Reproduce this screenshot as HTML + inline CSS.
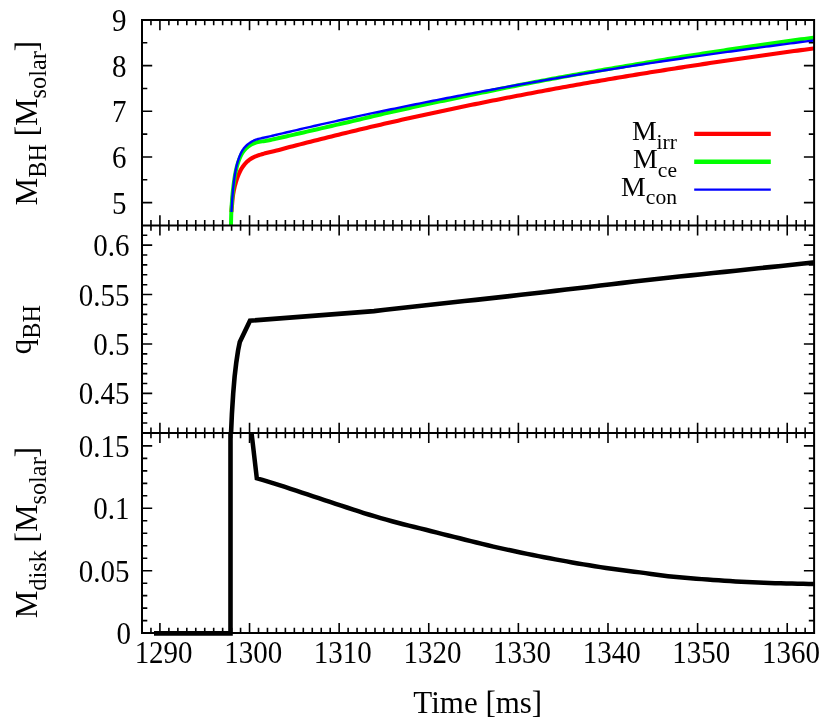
<!DOCTYPE html>
<html><head><meta charset="utf-8"><title>chart</title>
<style>html,body{margin:0;padding:0;background:#fff}svg{display:block}text{font-family:"Liberation Serif",serif;fill:#000}</style></head><body>
<svg width="830" height="726" viewBox="0 0 830 726">
<rect x="0" y="0" width="830" height="726" fill="#fff"/>
<defs>
<clipPath id="c1"><rect x="142.0" y="20.0" width="672.1" height="205.4"/></clipPath>
<clipPath id="c2"><rect x="142.0" y="225.4" width="672.1" height="207.49999999999997"/></clipPath>
<clipPath id="c3"><rect x="142.0" y="432.9" width="672.1" height="203.20000000000005"/></clipPath>
</defs>
<path d="M150.96,20.00L150.96,25.30M150.96,220.10L150.96,230.70M150.96,427.60L150.96,438.20M150.96,633.10L150.96,627.80M159.92,20.00L159.92,30.20M159.92,215.20L159.92,235.60M159.92,422.70L159.92,443.10M159.92,633.10L159.92,622.90M168.88,20.00L168.88,25.30M168.88,220.10L168.88,230.70M168.88,427.60L168.88,438.20M168.88,633.10L168.88,627.80M177.85,20.00L177.85,25.30M177.85,220.10L177.85,230.70M177.85,427.60L177.85,438.20M177.85,633.10L177.85,627.80M186.81,20.00L186.81,25.30M186.81,220.10L186.81,230.70M186.81,427.60L186.81,438.20M186.81,633.10L186.81,627.80M195.77,20.00L195.77,25.30M195.77,220.10L195.77,230.70M195.77,427.60L195.77,438.20M195.77,633.10L195.77,627.80M204.73,20.00L204.73,25.30M204.73,220.10L204.73,230.70M204.73,427.60L204.73,438.20M204.73,633.10L204.73,627.80M213.69,20.00L213.69,25.30M213.69,220.10L213.69,230.70M213.69,427.60L213.69,438.20M213.69,633.10L213.69,627.80M222.65,20.00L222.65,25.30M222.65,220.10L222.65,230.70M222.65,427.60L222.65,438.20M222.65,633.10L222.65,627.80M231.61,20.00L231.61,25.30M231.61,220.10L231.61,230.70M231.61,427.60L231.61,438.20M231.61,633.10L231.61,627.80M240.57,20.00L240.57,25.30M240.57,220.10L240.57,230.70M240.57,427.60L240.57,438.20M240.57,633.10L240.57,627.80M249.54,20.00L249.54,30.20M249.54,215.20L249.54,235.60M249.54,422.70L249.54,443.10M249.54,633.10L249.54,622.90M258.50,20.00L258.50,25.30M258.50,220.10L258.50,230.70M258.50,427.60L258.50,438.20M258.50,633.10L258.50,627.80M267.46,20.00L267.46,25.30M267.46,220.10L267.46,230.70M267.46,427.60L267.46,438.20M267.46,633.10L267.46,627.80M276.42,20.00L276.42,25.30M276.42,220.10L276.42,230.70M276.42,427.60L276.42,438.20M276.42,633.10L276.42,627.80M285.38,20.00L285.38,25.30M285.38,220.10L285.38,230.70M285.38,427.60L285.38,438.20M285.38,633.10L285.38,627.80M294.34,20.00L294.34,25.30M294.34,220.10L294.34,230.70M294.34,427.60L294.34,438.20M294.34,633.10L294.34,627.80M303.30,20.00L303.30,25.30M303.30,220.10L303.30,230.70M303.30,427.60L303.30,438.20M303.30,633.10L303.30,627.80M312.27,20.00L312.27,25.30M312.27,220.10L312.27,230.70M312.27,427.60L312.27,438.20M312.27,633.10L312.27,627.80M321.23,20.00L321.23,25.30M321.23,220.10L321.23,230.70M321.23,427.60L321.23,438.20M321.23,633.10L321.23,627.80M330.19,20.00L330.19,25.30M330.19,220.10L330.19,230.70M330.19,427.60L330.19,438.20M330.19,633.10L330.19,627.80M339.15,20.00L339.15,30.20M339.15,215.20L339.15,235.60M339.15,422.70L339.15,443.10M339.15,633.10L339.15,622.90M348.11,20.00L348.11,25.30M348.11,220.10L348.11,230.70M348.11,427.60L348.11,438.20M348.11,633.10L348.11,627.80M357.07,20.00L357.07,25.30M357.07,220.10L357.07,230.70M357.07,427.60L357.07,438.20M357.07,633.10L357.07,627.80M366.03,20.00L366.03,25.30M366.03,220.10L366.03,230.70M366.03,427.60L366.03,438.20M366.03,633.10L366.03,627.80M374.99,20.00L374.99,25.30M374.99,220.10L374.99,230.70M374.99,427.60L374.99,438.20M374.99,633.10L374.99,627.80M383.96,20.00L383.96,25.30M383.96,220.10L383.96,230.70M383.96,427.60L383.96,438.20M383.96,633.10L383.96,627.80M392.92,20.00L392.92,25.30M392.92,220.10L392.92,230.70M392.92,427.60L392.92,438.20M392.92,633.10L392.92,627.80M401.88,20.00L401.88,25.30M401.88,220.10L401.88,230.70M401.88,427.60L401.88,438.20M401.88,633.10L401.88,627.80M410.84,20.00L410.84,25.30M410.84,220.10L410.84,230.70M410.84,427.60L410.84,438.20M410.84,633.10L410.84,627.80M419.80,20.00L419.80,25.30M419.80,220.10L419.80,230.70M419.80,427.60L419.80,438.20M419.80,633.10L419.80,627.80M428.76,20.00L428.76,30.20M428.76,215.20L428.76,235.60M428.76,422.70L428.76,443.10M428.76,633.10L428.76,622.90M437.72,20.00L437.72,25.30M437.72,220.10L437.72,230.70M437.72,427.60L437.72,438.20M437.72,633.10L437.72,627.80M446.69,20.00L446.69,25.30M446.69,220.10L446.69,230.70M446.69,427.60L446.69,438.20M446.69,633.10L446.69,627.80M455.65,20.00L455.65,25.30M455.65,220.10L455.65,230.70M455.65,427.60L455.65,438.20M455.65,633.10L455.65,627.80M464.61,20.00L464.61,25.30M464.61,220.10L464.61,230.70M464.61,427.60L464.61,438.20M464.61,633.10L464.61,627.80M473.57,20.00L473.57,25.30M473.57,220.10L473.57,230.70M473.57,427.60L473.57,438.20M473.57,633.10L473.57,627.80M482.53,20.00L482.53,25.30M482.53,220.10L482.53,230.70M482.53,427.60L482.53,438.20M482.53,633.10L482.53,627.80M491.49,20.00L491.49,25.30M491.49,220.10L491.49,230.70M491.49,427.60L491.49,438.20M491.49,633.10L491.49,627.80M500.45,20.00L500.45,25.30M500.45,220.10L500.45,230.70M500.45,427.60L500.45,438.20M500.45,633.10L500.45,627.80M509.41,20.00L509.41,25.30M509.41,220.10L509.41,230.70M509.41,427.60L509.41,438.20M509.41,633.10L509.41,627.80M518.38,20.00L518.38,30.20M518.38,215.20L518.38,235.60M518.38,422.70L518.38,443.10M518.38,633.10L518.38,622.90M527.34,20.00L527.34,25.30M527.34,220.10L527.34,230.70M527.34,427.60L527.34,438.20M527.34,633.10L527.34,627.80M536.30,20.00L536.30,25.30M536.30,220.10L536.30,230.70M536.30,427.60L536.30,438.20M536.30,633.10L536.30,627.80M545.26,20.00L545.26,25.30M545.26,220.10L545.26,230.70M545.26,427.60L545.26,438.20M545.26,633.10L545.26,627.80M554.22,20.00L554.22,25.30M554.22,220.10L554.22,230.70M554.22,427.60L554.22,438.20M554.22,633.10L554.22,627.80M563.18,20.00L563.18,25.30M563.18,220.10L563.18,230.70M563.18,427.60L563.18,438.20M563.18,633.10L563.18,627.80M572.14,20.00L572.14,25.30M572.14,220.10L572.14,230.70M572.14,427.60L572.14,438.20M572.14,633.10L572.14,627.80M581.11,20.00L581.11,25.30M581.11,220.10L581.11,230.70M581.11,427.60L581.11,438.20M581.11,633.10L581.11,627.80M590.07,20.00L590.07,25.30M590.07,220.10L590.07,230.70M590.07,427.60L590.07,438.20M590.07,633.10L590.07,627.80M599.03,20.00L599.03,25.30M599.03,220.10L599.03,230.70M599.03,427.60L599.03,438.20M599.03,633.10L599.03,627.80M607.99,20.00L607.99,30.20M607.99,215.20L607.99,235.60M607.99,422.70L607.99,443.10M607.99,633.10L607.99,622.90M616.95,20.00L616.95,25.30M616.95,220.10L616.95,230.70M616.95,427.60L616.95,438.20M616.95,633.10L616.95,627.80M625.91,20.00L625.91,25.30M625.91,220.10L625.91,230.70M625.91,427.60L625.91,438.20M625.91,633.10L625.91,627.80M634.87,20.00L634.87,25.30M634.87,220.10L634.87,230.70M634.87,427.60L634.87,438.20M634.87,633.10L634.87,627.80M643.83,20.00L643.83,25.30M643.83,220.10L643.83,230.70M643.83,427.60L643.83,438.20M643.83,633.10L643.83,627.80M652.80,20.00L652.80,25.30M652.80,220.10L652.80,230.70M652.80,427.60L652.80,438.20M652.80,633.10L652.80,627.80M661.76,20.00L661.76,25.30M661.76,220.10L661.76,230.70M661.76,427.60L661.76,438.20M661.76,633.10L661.76,627.80M670.72,20.00L670.72,25.30M670.72,220.10L670.72,230.70M670.72,427.60L670.72,438.20M670.72,633.10L670.72,627.80M679.68,20.00L679.68,25.30M679.68,220.10L679.68,230.70M679.68,427.60L679.68,438.20M679.68,633.10L679.68,627.80M688.64,20.00L688.64,25.30M688.64,220.10L688.64,230.70M688.64,427.60L688.64,438.20M688.64,633.10L688.64,627.80M697.60,20.00L697.60,30.20M697.60,215.20L697.60,235.60M697.60,422.70L697.60,443.10M697.60,633.10L697.60,622.90M706.56,20.00L706.56,25.30M706.56,220.10L706.56,230.70M706.56,427.60L706.56,438.20M706.56,633.10L706.56,627.80M715.53,20.00L715.53,25.30M715.53,220.10L715.53,230.70M715.53,427.60L715.53,438.20M715.53,633.10L715.53,627.80M724.49,20.00L724.49,25.30M724.49,220.10L724.49,230.70M724.49,427.60L724.49,438.20M724.49,633.10L724.49,627.80M733.45,20.00L733.45,25.30M733.45,220.10L733.45,230.70M733.45,427.60L733.45,438.20M733.45,633.10L733.45,627.80M742.41,20.00L742.41,25.30M742.41,220.10L742.41,230.70M742.41,427.60L742.41,438.20M742.41,633.10L742.41,627.80M751.37,20.00L751.37,25.30M751.37,220.10L751.37,230.70M751.37,427.60L751.37,438.20M751.37,633.10L751.37,627.80M760.33,20.00L760.33,25.30M760.33,220.10L760.33,230.70M760.33,427.60L760.33,438.20M760.33,633.10L760.33,627.80M769.29,20.00L769.29,25.30M769.29,220.10L769.29,230.70M769.29,427.60L769.29,438.20M769.29,633.10L769.29,627.80M778.25,20.00L778.25,25.30M778.25,220.10L778.25,230.70M778.25,427.60L778.25,438.20M778.25,633.10L778.25,627.80M787.22,20.00L787.22,30.20M787.22,215.20L787.22,235.60M787.22,422.70L787.22,443.10M787.22,633.10L787.22,622.90M796.18,20.00L796.18,25.30M796.18,220.10L796.18,230.70M796.18,427.60L796.18,438.20M796.18,633.10L796.18,627.80M805.14,20.00L805.14,25.30M805.14,220.10L805.14,230.70M805.14,427.60L805.14,438.20M805.14,633.10L805.14,627.80M142.00,202.58L152.20,202.58M814.10,202.58L803.90,202.58M142.00,179.76L147.30,179.76M814.10,179.76L808.80,179.76M142.00,156.93L152.20,156.93M814.10,156.93L803.90,156.93M142.00,134.11L147.30,134.11M814.10,134.11L808.80,134.11M142.00,111.29L152.20,111.29M814.10,111.29L803.90,111.29M142.00,88.47L147.30,88.47M814.10,88.47L808.80,88.47M142.00,65.64L152.20,65.64M814.10,65.64L803.90,65.64M142.00,42.82L147.30,42.82M814.10,42.82L808.80,42.82M142.00,423.02L147.30,423.02M814.10,423.02L808.80,423.02M142.00,413.14L147.30,413.14M814.10,413.14L808.80,413.14M142.00,403.26L147.30,403.26M814.10,403.26L808.80,403.26M142.00,393.38L152.20,393.38M814.10,393.38L803.90,393.38M142.00,383.50L147.30,383.50M814.10,383.50L808.80,383.50M142.00,373.61L147.30,373.61M814.10,373.61L808.80,373.61M142.00,363.73L147.30,363.73M814.10,363.73L808.80,363.73M142.00,353.85L147.30,353.85M814.10,353.85L808.80,353.85M142.00,343.97L152.20,343.97M814.10,343.97L803.90,343.97M142.00,334.09L147.30,334.09M814.10,334.09L808.80,334.09M142.00,324.21L147.30,324.21M814.10,324.21L808.80,324.21M142.00,314.33L147.30,314.33M814.10,314.33L808.80,314.33M142.00,304.45L147.30,304.45M814.10,304.45L808.80,304.45M142.00,294.57L152.20,294.57M814.10,294.57L803.90,294.57M142.00,284.69L147.30,284.69M814.10,284.69L808.80,284.69M142.00,274.80L147.30,274.80M814.10,274.80L808.80,274.80M142.00,264.92L147.30,264.92M814.10,264.92L808.80,264.92M142.00,255.04L147.30,255.04M814.10,255.04L808.80,255.04M142.00,245.16L152.20,245.16M814.10,245.16L803.90,245.16M142.00,235.28L147.30,235.28M814.10,235.28L808.80,235.28M142.00,620.62L147.30,620.62M814.10,620.62L808.80,620.62M142.00,608.14L147.30,608.14M814.10,608.14L808.80,608.14M142.00,595.66L147.30,595.66M814.10,595.66L808.80,595.66M142.00,583.18L147.30,583.18M814.10,583.18L808.80,583.18M142.00,570.70L152.20,570.70M814.10,570.70L803.90,570.70M142.00,558.22L147.30,558.22M814.10,558.22L808.80,558.22M142.00,545.74L147.30,545.74M814.10,545.74L808.80,545.74M142.00,533.26L147.30,533.26M814.10,533.26L808.80,533.26M142.00,520.78L147.30,520.78M814.10,520.78L808.80,520.78M142.00,508.30L152.20,508.30M814.10,508.30L803.90,508.30M142.00,495.82L147.30,495.82M814.10,495.82L808.80,495.82M142.00,483.34L147.30,483.34M814.10,483.34L808.80,483.34M142.00,470.86L147.30,470.86M814.10,470.86L808.80,470.86M142.00,458.38L147.30,458.38M814.10,458.38L808.80,458.38M142.00,445.90L152.20,445.90M814.10,445.90L803.90,445.90" fill="none" stroke="#000" stroke-width="1.6"/>
<path d="M231.40,212.10 L231.50,210.98 L231.59,209.87 L231.69,208.75 L231.79,207.64 L231.89,206.52 L231.99,205.41 L232.09,204.29 L232.18,203.18 L232.28,202.06 L232.37,200.94 L232.48,199.83 L232.59,198.71 L232.71,197.60 L232.85,196.49 L233.01,195.38 L233.17,194.27 L233.36,193.17 L233.55,192.06 L233.75,190.96 L233.97,189.87 L234.20,188.77 L234.45,187.68 L234.71,186.59 L234.99,185.50 L235.28,184.42 L235.59,183.34 L235.90,182.27 L236.22,181.20 L236.55,180.12 L236.90,179.06 L237.26,177.99 L237.64,176.94 L238.04,175.89 L238.46,174.86 L238.89,173.83 L239.36,172.81 L239.84,171.79 L240.35,170.78 L240.88,169.79 L241.44,168.82 L242.01,167.88 L242.63,166.95 L243.28,166.03 L243.97,165.13 L244.68,164.25 L245.43,163.40 L246.20,162.58 L246.99,161.81 L247.81,161.08 L248.67,160.36 L249.57,159.67 L250.50,159.01 L251.45,158.40 L252.41,157.85 L253.39,157.35 L254.41,156.88 L255.45,156.45 L256.50,156.04 L257.56,155.66 L258.61,155.29 L259.67,154.93 L260.74,154.59 L261.81,154.26 L262.89,153.94 L263.97,153.64 L265.05,153.34 L266.13,153.05 L267.21,152.76 L268.30,152.49 L269.39,152.24 L270.48,151.98 L271.57,151.74 L272.66,151.49 L273.75,151.23 L274.84,150.97 L275.52,150.80 L279.02,149.90 L282.52,148.96 L286.03,148.02 L289.53,147.09 L293.03,146.18 L296.53,145.27 L300.04,144.36 L303.54,143.46 L307.04,142.56 L310.55,141.67 L314.05,140.78 L317.55,139.89 L321.06,139.01 L324.56,138.14 L328.06,137.27 L331.57,136.40 L335.07,135.53 L338.57,134.67 L342.08,133.82 L345.58,132.97 L349.08,132.12 L352.58,131.27 L356.09,130.43 L359.59,129.60 L363.09,128.77 L366.60,127.94 L370.10,127.11 L373.60,126.29 L377.11,125.48 L380.61,124.66 L384.11,123.86 L387.62,123.05 L391.12,122.25 L394.62,121.45 L398.13,120.66 L401.63,119.87 L405.13,119.08 L408.64,118.30 L412.14,117.52 L415.64,116.75 L419.14,115.98 L422.65,115.21 L426.15,114.45 L429.65,113.69 L433.16,112.93 L436.66,112.18 L440.16,111.43 L443.67,110.68 L447.17,109.94 L450.67,109.20 L454.18,108.47 L457.68,107.73 L461.18,107.01 L464.69,106.28 L468.19,105.56 L471.69,104.84 L475.19,104.13 L478.70,103.42 L482.20,102.71 L485.70,102.00 L489.21,101.30 L492.71,100.60 L496.21,99.91 L499.72,99.22 L503.22,98.53 L506.72,97.85 L510.23,97.16 L513.73,96.49 L517.23,95.81 L520.74,95.14 L524.24,94.47 L527.74,93.80 L531.25,93.14 L534.75,92.48 L538.25,91.82 L541.75,91.17 L545.26,90.52 L548.76,89.87 L552.26,89.23 L555.77,88.59 L559.27,87.95 L562.77,87.32 L566.28,86.68 L569.78,86.05 L573.28,85.43 L576.79,84.80 L580.29,84.18 L583.79,83.56 L587.30,82.95 L590.80,82.34 L594.30,81.73 L597.81,81.12 L601.31,80.52 L604.81,79.92 L608.31,79.32 L611.82,78.72 L615.32,78.13 L618.82,77.54 L622.33,76.95 L625.83,76.37 L629.33,75.79 L632.84,75.21 L636.34,74.63 L639.84,74.05 L643.35,73.48 L646.85,72.91 L650.35,72.35 L653.86,71.78 L657.36,71.22 L660.86,70.66 L664.36,70.11 L667.87,69.55 L671.37,69.00 L674.87,68.45 L678.38,67.90 L681.88,67.36 L685.38,66.82 L688.89,66.28 L692.39,65.74 L695.89,65.20 L699.40,64.67 L702.90,64.14 L706.40,63.61 L709.91,63.08 L713.41,62.56 L716.91,62.04 L720.42,61.52 L723.92,61.00 L727.42,60.49 L730.92,59.97 L734.43,59.46 L737.93,58.95 L741.43,58.45 L744.94,57.94 L748.44,57.44 L751.94,56.94 L755.45,56.44 L758.95,55.94 L762.45,55.45 L765.96,54.95 L769.46,54.46 L772.96,53.97 L776.47,53.49 L779.97,53.00 L783.47,52.52 L786.97,52.04 L790.48,51.56 L793.98,51.08 L797.48,50.61 L800.99,50.13 L804.49,49.66 L807.99,49.19 L811.50,48.72 L815.00,48.25" fill="none" stroke="#ff0000" stroke-width="4.1" stroke-linejoin="round" stroke-linecap="butt" clip-path="url(#c1)"/>
<path d="M231.00,226.00 L231.01,224.58 L231.02,223.15 L231.05,221.73 L231.08,220.30 L231.11,218.88 L231.15,217.46 L231.19,216.03 L231.23,214.61 L231.28,213.19 L231.33,211.77 L231.39,210.34 L231.46,208.92 L231.54,207.50 L231.62,206.08 L231.72,204.66 L231.82,203.23 L231.93,201.81 L232.04,200.39 L232.15,198.97 L232.27,197.55 L232.39,196.14 L232.51,194.72 L232.64,193.30 L232.78,191.88 L232.93,190.47 L233.09,189.05 L233.25,187.63 L233.42,186.22 L233.60,184.81 L233.78,183.40 L233.97,181.99 L234.17,180.58 L234.38,179.16 L234.59,177.75 L234.82,176.35 L235.07,174.94 L235.32,173.54 L235.59,172.14 L235.88,170.75 L236.19,169.37 L236.52,167.98 L236.88,166.60 L237.27,165.22 L237.68,163.85 L238.12,162.49 L238.58,161.15 L239.07,159.82 L239.59,158.50 L240.15,157.17 L240.77,155.87 L241.42,154.59 L242.12,153.36 L242.87,152.19 L243.71,151.04 L244.63,149.92 L245.61,148.86 L246.64,147.86 L247.70,146.95 L248.83,146.10 L250.03,145.30 L251.28,144.56 L252.55,143.92 L253.84,143.35 L255.17,142.83 L256.54,142.38 L257.91,142.02 L259.30,141.76 L260.70,141.55 L262.12,141.36 L263.54,141.19 L264.96,141.01 L266.36,140.79 L267.76,140.53 L269.16,140.25 L270.55,139.95 L271.94,139.64 L273.33,139.32 L274.72,139.01 L275.52,138.84 L279.02,138.06 L282.52,137.27 L286.03,136.47 L289.53,135.67 L293.03,134.87 L296.53,134.06 L300.04,133.25 L303.54,132.44 L307.04,131.63 L310.55,130.82 L314.05,130.01 L317.55,129.20 L321.06,128.39 L324.56,127.58 L328.06,126.77 L331.57,125.96 L335.07,125.16 L338.57,124.36 L342.08,123.56 L345.58,122.75 L349.08,121.94 L352.58,121.12 L356.09,120.29 L359.59,119.45 L363.09,118.61 L366.60,117.77 L370.10,116.94 L373.60,116.12 L377.11,115.30 L380.61,114.48 L384.11,113.67 L387.62,112.87 L391.12,112.07 L394.62,111.28 L398.13,110.50 L401.63,109.73 L405.13,108.96 L408.64,108.19 L412.14,107.42 L415.64,106.66 L419.14,105.90 L422.65,105.15 L426.15,104.39 L429.65,103.64 L433.16,102.90 L436.66,102.15 L440.16,101.41 L443.67,100.67 L447.17,99.93 L450.67,99.20 L454.18,98.47 L457.68,97.74 L461.18,97.01 L464.69,96.29 L468.19,95.56 L471.69,94.84 L475.19,94.11 L478.70,93.38 L482.20,92.65 L485.70,91.93 L489.21,91.20 L492.71,90.48 L496.21,89.76 L499.72,89.03 L503.22,88.31 L506.72,87.60 L510.23,86.89 L513.73,86.19 L517.23,85.49 L520.74,84.80 L524.24,84.11 L527.74,83.43 L531.25,82.75 L534.75,82.08 L538.25,81.42 L541.75,80.76 L545.26,80.11 L548.76,79.46 L552.26,78.81 L555.77,78.17 L559.27,77.53 L562.77,76.89 L566.28,76.26 L569.78,75.64 L573.28,75.02 L576.79,74.40 L580.29,73.79 L583.79,73.18 L587.30,72.57 L590.80,71.97 L594.30,71.37 L597.81,70.78 L601.31,70.18 L604.81,69.59 L608.31,69.00 L611.82,68.41 L615.32,67.83 L618.82,67.24 L622.33,66.66 L625.83,66.08 L629.33,65.49 L632.84,64.90 L636.34,64.32 L639.84,63.73 L643.35,63.14 L646.85,62.56 L650.35,61.97 L653.86,61.39 L657.36,60.81 L660.86,60.24 L664.36,59.66 L667.87,59.09 L671.37,58.52 L674.87,57.96 L678.38,57.40 L681.88,56.85 L685.38,56.30 L688.89,55.75 L692.39,55.20 L695.89,54.65 L699.40,54.11 L702.90,53.57 L706.40,53.03 L709.91,52.49 L713.41,51.96 L716.91,51.43 L720.42,50.90 L723.92,50.38 L727.42,49.85 L730.92,49.33 L734.43,48.81 L737.93,48.29 L741.43,47.78 L744.94,47.27 L748.44,46.76 L751.94,46.25 L755.45,45.74 L758.95,45.23 L762.45,44.73 L765.96,44.23 L769.46,43.73 L772.96,43.24 L776.47,42.74 L779.97,42.25 L783.47,41.76 L786.97,41.27 L790.48,40.78 L793.98,40.30 L797.48,39.82 L800.99,39.34 L804.49,38.86 L807.99,38.38 L811.50,37.91 L815.00,37.44" fill="none" stroke="#00ff00" stroke-width="4.0" stroke-linejoin="round" stroke-linecap="butt" clip-path="url(#c1)"/>
<path d="M231.50,212.00 L231.56,210.70 L231.62,209.40 L231.69,208.11 L231.76,206.81 L231.83,205.51 L231.91,204.22 L232.00,202.92 L232.09,201.63 L232.18,200.33 L232.27,199.04 L232.37,197.74 L232.46,196.45 L232.56,195.15 L232.67,193.86 L232.78,192.56 L232.89,191.27 L233.01,189.98 L233.14,188.68 L233.27,187.39 L233.40,186.10 L233.55,184.81 L233.69,183.52 L233.85,182.23 L234.01,180.94 L234.17,179.66 L234.35,178.37 L234.53,177.08 L234.72,175.79 L234.92,174.51 L235.14,173.23 L235.36,171.95 L235.59,170.67 L235.84,169.40 L236.10,168.13 L236.38,166.86 L236.68,165.60 L237.00,164.33 L237.34,163.08 L237.70,161.82 L238.08,160.58 L238.48,159.35 L238.90,158.12 L239.33,156.90 L239.80,155.67 L240.31,154.46 L240.84,153.26 L241.42,152.10 L242.04,150.98 L242.71,149.90 L243.46,148.84 L244.28,147.81 L245.16,146.82 L246.07,145.87 L247.00,145.00 L247.98,144.16 L249.01,143.37 L250.10,142.61 L251.21,141.91 L252.34,141.28 L253.49,140.71 L254.68,140.18 L255.90,139.70 L257.13,139.27 L258.36,138.90 L259.62,138.58 L260.88,138.30 L262.16,138.04 L263.44,137.79 L264.71,137.54 L265.99,137.27 L267.25,136.98 L268.52,136.69 L269.78,136.39 L271.05,136.09 L272.31,135.79 L273.57,135.49 L274.84,135.19 L275.52,135.03 L279.02,134.20 L282.52,133.37 L286.03,132.54 L289.53,131.71 L293.03,130.89 L296.53,130.07 L300.04,129.26 L303.54,128.45 L307.04,127.64 L310.55,126.84 L314.05,126.04 L317.55,125.24 L321.06,124.45 L324.56,123.66 L328.06,122.87 L331.57,122.09 L335.07,121.31 L338.57,120.54 L342.08,119.76 L345.58,118.99 L349.08,118.23 L352.58,117.46 L356.09,116.70 L359.59,115.95 L363.09,115.19 L366.60,114.44 L370.10,113.70 L373.60,112.95 L377.11,112.21 L380.61,111.48 L384.11,110.74 L387.62,110.01 L391.12,109.28 L394.62,108.56 L398.13,107.84 L401.63,107.12 L405.13,106.40 L408.64,105.69 L412.14,104.98 L415.64,104.27 L419.14,103.57 L422.65,102.87 L426.15,102.17 L429.65,101.48 L433.16,100.79 L436.66,100.10 L440.16,99.41 L443.67,98.73 L447.17,98.05 L450.67,97.37 L454.18,96.70 L457.68,96.03 L461.18,95.36 L464.69,94.69 L468.19,94.03 L471.69,93.37 L475.19,92.71 L478.70,92.06 L482.20,91.41 L485.70,90.76 L489.21,90.11 L492.71,89.47 L496.21,88.83 L499.72,88.19 L503.22,87.56 L506.72,86.92 L510.23,86.29 L513.73,85.67 L517.23,85.04 L520.74,84.42 L524.24,83.80 L527.74,83.19 L531.25,82.57 L534.75,81.96 L538.25,81.35 L541.75,80.75 L545.26,80.14 L548.76,79.54 L552.26,78.94 L555.77,78.35 L559.27,77.75 L562.77,77.16 L566.28,76.57 L569.78,75.99 L573.28,75.40 L576.79,74.82 L580.29,74.24 L583.79,73.67 L587.30,73.09 L590.80,72.52 L594.30,71.95 L597.81,71.38 L601.31,70.82 L604.81,70.26 L608.31,69.70 L611.82,69.14 L615.32,68.58 L618.82,68.03 L622.33,67.48 L625.83,66.93 L629.33,66.38 L632.84,65.84 L636.34,65.30 L639.84,64.76 L643.35,64.22 L646.85,63.68 L650.35,63.15 L653.86,62.62 L657.36,62.09 L660.86,61.56 L664.36,61.04 L667.87,60.51 L671.37,59.99 L674.87,59.47 L678.38,58.96 L681.88,58.44 L685.38,57.93 L688.89,57.42 L692.39,56.91 L695.89,56.40 L699.40,55.90 L702.90,55.39 L706.40,54.89 L709.91,54.39 L713.41,53.90 L716.91,53.40 L720.42,52.91 L723.92,52.42 L727.42,51.93 L730.92,51.44 L734.43,50.95 L737.93,50.47 L741.43,49.99 L744.94,49.51 L748.44,49.03 L751.94,48.55 L755.45,48.08 L758.95,47.60 L762.45,47.13 L765.96,46.66 L769.46,46.19 L772.96,45.72 L776.47,45.26 L779.97,44.80 L783.47,44.33 L786.97,43.87 L790.48,43.42 L793.98,42.96 L797.48,42.50 L800.99,42.05 L804.49,41.60 L807.99,41.15 L811.50,40.70 L815.00,40.25" fill="none" stroke="#0000ff" stroke-width="2.4" stroke-linejoin="round" stroke-linecap="butt" clip-path="url(#c1)"/>
<path d="M231.00,434.00 L231.90,414.00 L233.20,393.30 L234.60,376.80 L236.30,362.30 L238.10,350.30 L239.80,342.00 L250.00,320.70 L374.00,311.10 L385.31,309.79 L396.62,308.49 L407.92,307.20 L419.23,305.94 L430.54,304.69 L441.85,303.47 L453.15,302.26 L464.46,301.05 L475.77,299.85 L487.08,298.62 L498.38,297.38 L509.69,296.11 L521.00,294.82 L532.31,293.51 L543.62,292.20 L554.92,290.88 L566.23,289.56 L577.54,288.24 L588.85,286.91 L600.15,285.58 L611.46,284.23 L622.77,282.89 L634.08,281.56 L645.38,280.25 L656.69,278.97 L668.00,277.73 L679.31,276.52 L690.62,275.34 L701.92,274.17 L713.23,273.02 L724.54,271.86 L735.85,270.68 L747.15,269.50 L758.46,268.31 L769.77,267.12 L781.08,265.92 L792.38,264.73 L803.69,263.53 L815.00,262.33" fill="none" stroke="#000" stroke-width="4.6" stroke-linejoin="miter" stroke-linecap="butt" clip-path="url(#c2)"/>
<path d="M154.00,633.40 L230.50,633.40 L230.50,430.00" fill="none" stroke="#000" stroke-width="4.6" stroke-linejoin="miter" stroke-linecap="butt" clip-path="url(#c3)"/>
<path d="M251.20,430.00 L256.80,478.30 L262.43,479.93 L268.07,481.61 L273.70,483.33 L279.33,485.09 L284.97,486.91 L290.60,488.79 L296.23,490.69 L301.87,492.59 L307.50,494.46 L313.13,496.33 L318.77,498.19 L324.40,500.06 L330.03,501.91 L335.67,503.77 L341.30,505.62 L346.93,507.49 L352.57,509.36 L358.20,511.21 L363.83,513.02 L369.47,514.76 L375.10,516.45 L380.73,518.10 L386.37,519.70 L392.00,521.27 L397.63,522.78 L403.27,524.23 L408.90,525.59 L414.53,526.96 L420.17,528.36 L425.80,529.78 L431.43,531.20 L437.07,532.63 L442.70,534.06 L448.33,535.48 L453.97,536.89 L459.60,538.30 L465.23,539.71 L470.87,541.13 L476.50,542.54 L482.13,543.93 L487.77,545.28 L493.40,546.59 L499.03,547.86 L504.67,549.10 L510.30,550.32 L515.93,551.51 L521.57,552.68 L527.20,553.83 L532.83,554.97 L538.47,556.09 L544.10,557.20 L549.73,558.29 L555.37,559.35 L561.00,560.39 L566.63,561.41 L572.27,562.42 L577.90,563.41 L583.53,564.38 L589.17,565.33 L594.80,566.25 L600.43,567.12 L606.07,567.95 L611.70,568.73 L617.33,569.48 L622.97,570.21 L628.60,570.93 L634.23,571.65 L639.87,572.38 L645.50,573.14 L651.13,573.93 L656.77,574.71 L662.40,575.47 L668.03,576.18 L673.67,576.81 L679.30,577.35 L684.93,577.84 L690.57,578.29 L696.20,578.72 L701.83,579.13 L707.47,579.54 L713.10,579.94 L718.73,580.34 L724.37,580.71 L730.00,581.07 L735.63,581.41 L741.27,581.72 L746.90,582.00 L752.53,582.27 L758.17,582.52 L763.80,582.76 L769.43,582.97 L775.07,583.17 L780.70,583.34 L786.33,583.48 L791.97,583.62 L797.60,583.74 L803.23,583.84 L808.87,583.93 L814.50,584.00" fill="none" stroke="#000" stroke-width="4.5" stroke-linejoin="miter" stroke-linecap="butt" clip-path="url(#c3)"/>
<path d="M142.0,20.0H814.1V633.1H142.0Z M142.0,225.4H814.1 M142.0,432.9H814.1" fill="none" stroke="#000" stroke-width="2.0" stroke-linejoin="miter"/>
<g opacity="0.999">
<text transform="translate(126.50,213.54) scale(1.0000,1.0850)" font-size="29.0" text-anchor="end">5</text>
<text transform="translate(126.50,167.90) scale(1.0000,1.0850)" font-size="29.0" text-anchor="end">6</text>
<text transform="translate(126.50,122.25) scale(1.0000,1.0850)" font-size="29.0" text-anchor="end">7</text>
<text transform="translate(126.50,76.61) scale(1.0000,1.0850)" font-size="29.0" text-anchor="end">8</text>
<text transform="translate(126.50,30.96) scale(1.0000,1.0850)" font-size="29.0" text-anchor="end">9</text>
<text transform="translate(129.60,404.34) scale(1.0000,1.0850)" font-size="29.0" text-anchor="end">0.45</text>
<text transform="translate(129.60,354.93) scale(1.0000,1.0850)" font-size="29.0" text-anchor="end">0.5</text>
<text transform="translate(129.60,305.53) scale(1.0000,1.0850)" font-size="29.0" text-anchor="end">0.55</text>
<text transform="translate(129.60,256.12) scale(1.0000,1.0850)" font-size="29.0" text-anchor="end">0.6</text>
<text transform="translate(130.90,644.06) scale(1.0000,1.0850)" font-size="29.0" text-anchor="end">0</text>
<text transform="translate(129.60,581.66) scale(1.0000,1.0850)" font-size="29.0" text-anchor="end">0.05</text>
<text transform="translate(129.60,519.26) scale(1.0000,1.0850)" font-size="29.0" text-anchor="end">0.1</text>
<text transform="translate(129.60,456.87) scale(1.0000,1.0850)" font-size="29.0" text-anchor="end">0.15</text>
<text transform="translate(163.62,662.60) scale(1.0000,1.0850)" font-size="29.0" text-anchor="middle">1290</text>
<text transform="translate(253.24,662.60) scale(1.0000,1.0850)" font-size="29.0" text-anchor="middle">1300</text>
<text transform="translate(342.85,662.60) scale(1.0000,1.0850)" font-size="29.0" text-anchor="middle">1310</text>
<text transform="translate(432.46,662.60) scale(1.0000,1.0850)" font-size="29.0" text-anchor="middle">1320</text>
<text transform="translate(522.08,662.60) scale(1.0000,1.0850)" font-size="29.0" text-anchor="middle">1330</text>
<text transform="translate(611.69,662.60) scale(1.0000,1.0850)" font-size="29.0" text-anchor="middle">1340</text>
<text transform="translate(701.30,662.60) scale(1.0000,1.0850)" font-size="29.0" text-anchor="middle">1350</text>
<text transform="translate(790.92,662.60) scale(1.0000,1.0850)" font-size="29.0" text-anchor="middle">1360</text>
<text transform="translate(477.75,713.00) scale(1.0000,1.0070)" font-size="31.0" text-anchor="middle">Time [ms]</text>
<text transform="translate(37.00,123.10) rotate(-90) scale(1.0000,1.0070)" font-size="31.0" text-anchor="middle"><tspan font-size="31.0">M</tspan><tspan font-size="24.34" dy="9.14">BH</tspan><tspan font-size="31.0" dy="-9.14"> [M</tspan><tspan font-size="24.34" dy="9.14">solar</tspan><tspan font-size="31.0" dy="-9.14">]</tspan></text>
<text transform="translate(30.50,329.70) rotate(-90) scale(1.0000,1.0070)" font-size="31.0" text-anchor="middle"><tspan font-size="31.0">q</tspan><tspan font-size="24.34" dy="9.14">BH</tspan></text>
<text transform="translate(37.00,532.60) rotate(-90) scale(1.0000,1.0070)" font-size="31.0" text-anchor="middle"><tspan font-size="31.0">M</tspan><tspan font-size="24.34" dy="9.14">disk</tspan><tspan font-size="31.0" dy="-9.14"> [M</tspan><tspan font-size="24.34" dy="9.14">solar</tspan><tspan font-size="31.0" dy="-9.14">]</tspan></text>
<text transform="translate(677.00,140.40)" font-size="27.8" text-anchor="end"><tspan font-size="27.8">M</tspan><tspan font-size="21.60" dy="8.37">irr</tspan></text>
<text transform="translate(677.00,168.25)" font-size="27.8" text-anchor="end"><tspan font-size="27.8">M</tspan><tspan font-size="21.60" dy="8.37">ce</tspan></text>
<text transform="translate(677.00,196.10)" font-size="27.8" text-anchor="end"><tspan font-size="27.8">M</tspan><tspan font-size="21.60" dy="8.37">con</tspan></text>
</g>
<path d="M694.2,133.90H770.8" stroke="#ff0000" stroke-width="4.3" fill="none"/>
<path d="M694.2,161.75H770.8" stroke="#00ff00" stroke-width="4.3" fill="none"/>
<path d="M694.2,189.60H770.8" stroke="#0000ff" stroke-width="2.2" fill="none"/>
</svg></body></html>
